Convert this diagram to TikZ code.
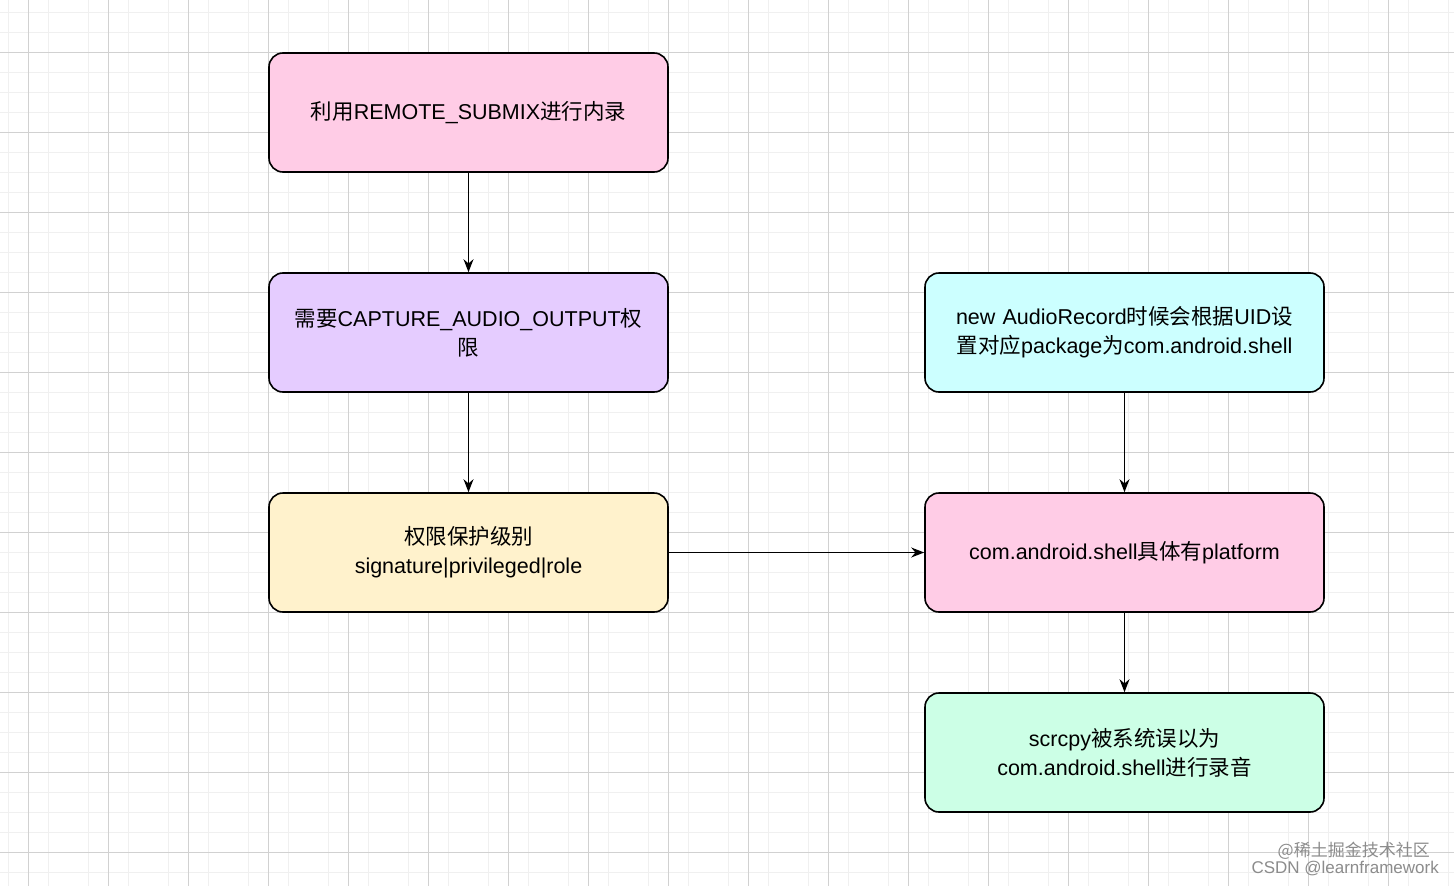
\documentclass[tikz,border=0pt]{standalone}
\usepackage{fontspec}
\setmainfont{Liberation Sans}
\newfontfamily\cjk{Noto Sans CJK SC}
\newcommand{\zh}[1]{{\cjk #1}}
\usetikzlibrary{arrows.meta}
\begin{document}
\begin{tikzpicture}[x=1pt,y=-1pt,
  box/.style={draw=black,line width=1.6pt,rounded corners=14pt,minimum width=399pt,minimum height=119pt,align=center,font=\fontsize{21.5}{29}\selectfont,text width=392pt,inner sep=0pt},
  arr/.style={-{Stealth[length=13pt,width=10pt]},line width=1.3pt}]
\useasboundingbox (0,0) rectangle (1454,886);
\fill[white] (0,0) rectangle (1454,886);
\foreach \x in {8,48,...,1454} \draw[black!6,line width=1pt] (\x,0) -- (\x,886);
\foreach \y in {12,32,...,886} \draw[black!6,line width=1pt] (0,\y) -- (1454,\y);
\foreach \x in {28,108,...,1454} \draw[black!18,line width=1pt] (\x,0) -- (\x,886);
\foreach \y in {52,132,...,886} \draw[black!18,line width=1pt] (0,\y) -- (1454,\y);
\foreach \x in {48,68,88} {}
\node[box,fill={rgb,255:red,255;green,204;blue,230}] (a) at (468.5,112.5) {\zh{利用}REMOTE\_SUBMIX\zh{进行内录}};
\node[box,fill={rgb,255:red,229;green,204;blue,255}] (b) at (468.5,332.5) {\zh{需要}CAPTURE\_AUDIO\_OUTPUT\zh{权}\\\zh{限}};
\node[box,fill={rgb,255:red,255;green,242;blue,204}] (c) at (468.5,552.5) {\zh{权限保护级别}\\signature|privileged|role};
\node[box,fill={rgb,255:red,204;green,255;blue,255}] (d) at (1124.5,332.5) {new AudioRecord\zh{时候会根据}UID\zh{设}\\\zh{置对应}package\zh{为}com.android.shell};
\node[box,fill={rgb,255:red,255;green,204;blue,230}] (e) at (1124.5,552.5) {com.android.shell\zh{具体有}platform};
\node[box,fill={rgb,255:red,204;green,255;blue,230}] (f) at (1124.5,752.5) {scrcpy\zh{被系统误以为}\\com.android.shell\zh{进行录音}};
\draw[arr] (a) -- (b);
\draw[arr] (b) -- (c);
\draw[arr] (c) -- (e);
\draw[arr] (d) -- (e);
\draw[arr] (e) -- (f);
\node[anchor=east,text=black!45,font=\cjk\fontsize{17}{18}\selectfont,inner sep=0pt] (w1) at (1430,851) {@稀土掘金技术社区};
\node[anchor=east,text=black!45,font=\fontsize{17}{18}\selectfont,inner sep=0pt] (w2) at (1439,869) {CSDN @learnframework};
\end{tikzpicture}
\end{document}
